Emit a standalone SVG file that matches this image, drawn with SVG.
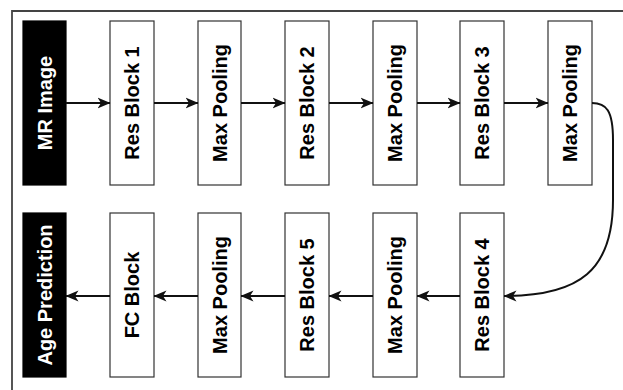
<svg xmlns="http://www.w3.org/2000/svg" width="623" height="390" viewBox="0 0 623 390">
<style>
.box{fill:#fff;stroke:#333;stroke-width:1.2}
.dark{fill:#000;stroke:#000;stroke-width:1.2}
.lbl{font-family:"Liberation Sans",Arial,sans-serif;font-weight:bold;font-size:20px;text-anchor:middle;dominant-baseline:central;fill:#000}
.wl{fill:#fff}
.edge{fill:none;stroke:#111;stroke-width:2;marker-end:url(#arr)}
</style>
<defs>
<marker id="arr" viewBox="0 0 13 12" refX="12.5" refY="6" markerWidth="13" markerHeight="12" markerUnits="userSpaceOnUse" orient="auto">
<path d="M0,0.5 L13,6 L0,11.5 L3.5,6 Z" fill="#111"/>
</marker>
</defs>
<rect width="623" height="390" fill="#fff"/>
<path d="M12,390 L12,11 L623,11" fill="none" stroke="#444" stroke-width="1.8"/>
<g id="mr-image"><rect class="dark" x="23" y="21" width="43" height="164"/><text class="lbl wl" transform="translate(44.5,103) rotate(-90)">MR Image</text></g>
<g id="res-block-1"><rect class="box" x="110" y="21" width="44" height="164"/><text class="lbl" transform="translate(132,103) rotate(-90)">Res Block 1</text></g>
<g id="max-pooling-1"><rect class="box" x="198" y="21" width="43" height="164"/><text class="lbl" transform="translate(219.5,103) rotate(-90)">Max Pooling</text></g>
<g id="res-block-2"><rect class="box" x="285" y="21" width="44" height="164"/><text class="lbl" transform="translate(307,103) rotate(-90)">Res Block 2</text></g>
<g id="max-pooling-2"><rect class="box" x="373" y="21" width="44" height="164"/><text class="lbl" transform="translate(395,103) rotate(-90)">Max Pooling</text></g>
<g id="res-block-3"><rect class="box" x="460" y="21" width="44" height="164"/><text class="lbl" transform="translate(482,103) rotate(-90)">Res Block 3</text></g>
<g id="max-pooling-3"><rect class="box" x="548" y="21" width="44" height="164"/><text class="lbl" transform="translate(570,103) rotate(-90)">Max Pooling</text></g>
<g id="age-prediction"><rect class="dark" x="23" y="213" width="43" height="164"/><text class="lbl wl" transform="translate(44.5,295) rotate(-90)">Age Prediction</text></g>
<g id="fc-block"><rect class="box" x="110" y="213" width="44" height="164"/><text class="lbl" transform="translate(132,295) rotate(-90)">FC Block</text></g>
<g id="max-pooling-5"><rect class="box" x="198" y="213" width="43" height="164"/><text class="lbl" transform="translate(219.5,295) rotate(-90)">Max Pooling</text></g>
<g id="res-block-5"><rect class="box" x="285" y="213" width="44" height="164"/><text class="lbl" transform="translate(307,295) rotate(-90)">Res Block 5</text></g>
<g id="max-pooling-4"><rect class="box" x="373" y="213" width="44" height="164"/><text class="lbl" transform="translate(395,295) rotate(-90)">Max Pooling</text></g>
<g id="res-block-4"><rect class="box" x="460" y="213" width="44" height="164"/><text class="lbl" transform="translate(482,295) rotate(-90)">Res Block 4</text></g>
<g id="connectors">
<path class="edge" d="M66,103 L110,103"/>
<path class="edge" d="M154,103 L198,103"/>
<path class="edge" d="M241,103 L285,103"/>
<path class="edge" d="M329,103 L373,103"/>
<path class="edge" d="M417,103 L460,103"/>
<path class="edge" d="M504,103 L548,103"/>
<path class="edge" d="M592,103 C606,103 613,110 613,140 L613,200 C613,270 580,296 504,296"/>
<path class="edge" d="M460,296 L417,296"/>
<path class="edge" d="M373,296 L329,296"/>
<path class="edge" d="M285,296 L241,296"/>
<path class="edge" d="M198,296 L154,296"/>
<path class="edge" d="M110,296 L66,296"/>
</g>
</svg>
